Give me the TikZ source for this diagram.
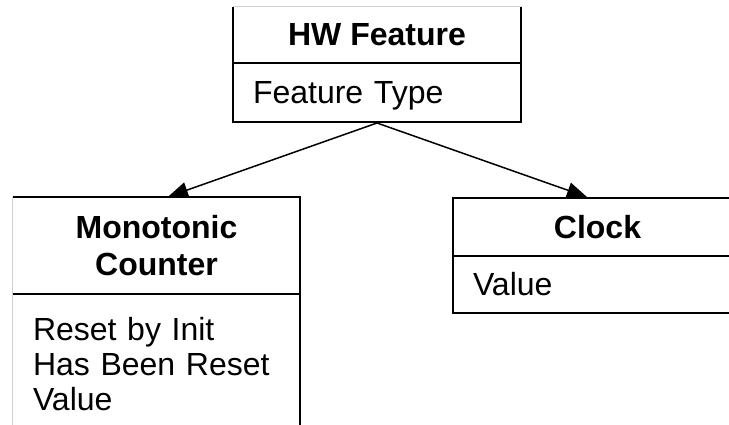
\documentclass[tikz,border=0pt]{standalone}
\usepackage{fontspec}
\setmainfont{Liberation Sans}
\usetikzlibrary{arrows.meta}
\begin{document}
\begin{tikzpicture}[x=1pt,y=-1pt,
  every node/.style={font=\fontsize{32}{35}\selectfont},
  edge/.style={draw=black,line width=2pt},
  faint/.style={draw=black!18,line width=1.2pt},
  head/.style={minimum width=288pt,inner sep=0pt,align=center,font=\fontsize{32}{37.5}\selectfont\bfseries},
  body/.style={text width=248pt,inner xsep=20pt,align=left},
  link/.style={draw=black,line width=1.5pt,-{Triangle[length=20pt,width=16pt]}}]
\useasboundingbox (0,0) rectangle (729,425);
\clip (0,0) rectangle (729,425);
% HW Feature
\node[head,minimum height=56pt] (hwh) at (377,35) {HW Feature};
\draw[edge] (hwh.north west) -- (hwh.south west) (hwh.north east) -- (hwh.south east);
\draw[faint] (hwh.north west) -- (hwh.north east);
\node[body,edge,minimum height=59pt,text height=23pt,text depth=-3pt] (hwb) at (377,92.5) {Feature Type};
% Monotonic Counter
\node[head,minimum width=287pt,minimum height=97pt] (mch) at (156.5,245.5) {Monotonic\\Counter};
\node[body,text width=247pt,anchor=north,inner ysep=18pt,minimum height=140pt] (mcb) at (156.5,294) {Reset by Init\\Has Been Reset\\Value};
\draw[edge] (mch.north west) -- (mch.north east) -- (mcb.south east);
\draw[edge] (mch.south west) -- (mch.south east);
\draw[faint] (mch.north west) -- (mcb.south west);
% Clock
\node[head,edge,minimum width=289pt,minimum height=58pt] (clh) at (597.5,227) {Clock};
\node[body,edge,text width=249pt,minimum height=57pt] (clb) at (597.5,284.5) {Value};
% connectors
\draw[link] (hwb.south) -- ([xshift=11.5pt]mch.north);
\draw[link] (hwb.south) -- ([xshift=-10.5pt]clh.north);
\end{tikzpicture}
\end{document}
